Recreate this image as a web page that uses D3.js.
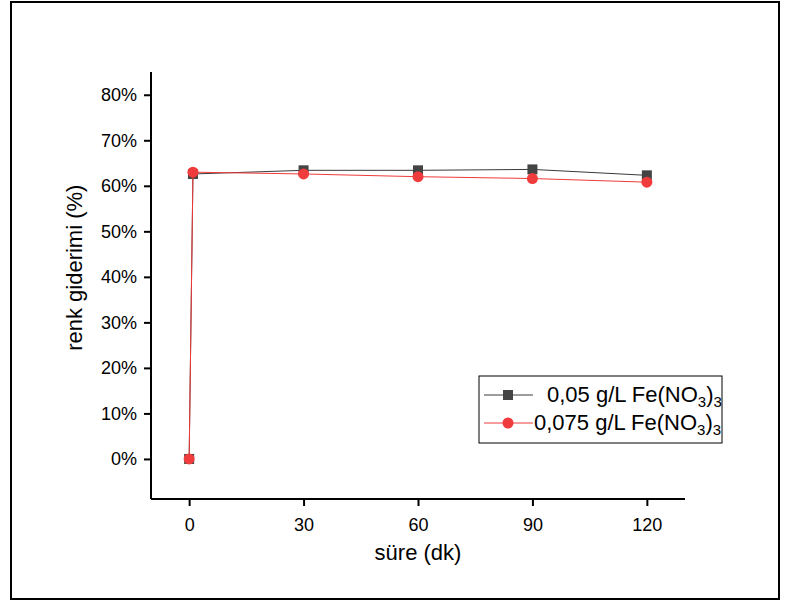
<!DOCTYPE html>
<html>
<head>
<meta charset="utf-8">
<script src="https://cdn.jsdelivr.net/npm/d3@7"></script>
<style>
  body { margin: 0; background: #fff; }
  text { font-family: "Liberation Sans", Arial, sans-serif; }
</style>
</head>
<body>
<svg id="chart-area"></svg>
<script>
// data
const times = [0, 1, 30, 60, 90, 120]
const series005 = [0, 62.6, 63.4, 63.4, 63.6, 62.3]
const series0075 = [0, 63.0, 62.6, 62.0, 61.6, 60.8]
const seriesNames = ["0,05 g/L Fe(NO", "0,075 g/L Fe(NO"]
const xTicks = [0, 30, 60, 90, 120]
const yTicks = [0, 10, 20, 30, 40, 50, 60, 70, 80]

function drawChart() {
    const svgWidth = 787
    const svgHeight = 603

    const svg = d3.select("#chart-area")
        .attr("width", svgWidth)
        .attr("height", svgHeight)

    // outer frame
    svg.append("rect")
        .attr("x", 11).attr("y", 2)
        .attr("width", 768).attr("height", 597)
        .attr("fill", "none")
        .attr("stroke", "#000")
        .attr("stroke-width", 2)

    const xScale = d3.scaleLinear()
        .domain([-10, 130])
        .range([151, 685])

    const yScale = d3.scaleLinear()
        .domain([-8.8, 85])
        .range([499, 72])

    // x axis
    const xAxis = svg.append("g")
        .attr("transform", `translate(0,${yScale(-8.8)})`)
    xAxis.call(d3.axisBottom(xScale).tickValues(d3.range(-0, 130, 15)).tickSize(4).tickFormat(""))
    xAxis.call(d3.axisBottom(xScale).tickValues(xTicks).tickSize(7).tickPadding(12))
    xAxis.selectAll(".domain").attr("d", `M${xScale(-10)},0H${xScale(130)}`)
    xAxis.selectAll("path, line").attr("stroke", "#000").attr("stroke-width", 2)
    xAxis.selectAll("text").attr("font-size", 18).attr("fill", "#000")
        .attr("font-family", "Liberation Sans, Arial, sans-serif")

    svg.append("text")
        .attr("x", xScale(60))
        .attr("y", 560)
        .attr("text-anchor", "middle")
        .attr("font-size", 22)
        .text("süre (dk)")

    // y axis
    const yAxis = svg.append("g")
        .attr("transform", `translate(${xScale(-10)},0)`)
    yAxis.call(d3.axisLeft(yScale).tickValues(d3.range(-5, 86, 10)).tickSize(4).tickFormat(""))
    yAxis.call(d3.axisLeft(yScale).tickValues(yTicks).tickSize(7).tickPadding(7).tickFormat(d => d + "%"))
    yAxis.selectAll(".domain").attr("d", `M0,${yScale(-8.8)}V${yScale(85)}`)
    yAxis.selectAll("path, line").attr("stroke", "#000").attr("stroke-width", 2)
    yAxis.selectAll("text").attr("font-size", 18).attr("fill", "#000")
        .attr("font-family", "Liberation Sans, Arial, sans-serif")

    svg.append("text")
        .attr("transform", `translate(82,${yScale(42)}) rotate(-90)`)
        .attr("text-anchor", "middle")
        .attr("font-size", 22)
        .text("renk giderimi (%)")

    const line = d3.line()
        .x((d, i) => xScale(times[i]))
        .y(d => yScale(d))

    // black series
    svg.append("path")
        .datum(series005)
        .attr("d", line)
        .attr("fill", "none")
        .attr("stroke", "#3a3a3a")
        .attr("stroke-width", 1)
    svg.selectAll(".sq")
        .data(series005)
        .enter().append("rect")
        .attr("class", "sq")
        .attr("x", (d, i) => xScale(times[i]) - 5)
        .attr("y", d => yScale(d) - 5)
        .attr("width", 10).attr("height", 10)
        .attr("fill", "#444")

    // red series
    svg.append("path")
        .datum(series0075)
        .attr("d", line)
        .attr("fill", "none")
        .attr("stroke", "#f03a3a")
        .attr("stroke-width", 1)
    svg.selectAll(".dot")
        .data(series0075)
        .enter().append("circle")
        .attr("class", "dot")
        .attr("cx", (d, i) => xScale(times[i]))
        .attr("cy", d => yScale(d))
        .attr("r", 5.5)
        .attr("fill", "#f03c3c")

    // legend
    const legend = svg.append("g")
    legend.append("rect")
        .attr("x", 479).attr("y", 376)
        .attr("width", 243).attr("height", 67)
        .attr("fill", "#fff")
        .attr("stroke", "#000")
        .attr("stroke-width", 1)

    const rows = [
        { name: seriesNames[0], color: "#444", lineColor: "#3a3a3a", shape: "square", y: 395, tx: 547 },
        { name: seriesNames[1], color: "#f03c3c", lineColor: "#f03a3a", shape: "circle", y: 423, tx: 534 }
    ]
    rows.forEach(r => {
        legend.append("line")
            .attr("x1", 484).attr("x2", 533)
            .attr("y1", r.y).attr("y2", r.y)
            .attr("stroke", r.lineColor).attr("stroke-width", 1)
        if (r.shape === "square") {
            legend.append("rect")
                .attr("x", 503).attr("y", r.y - 5)
                .attr("width", 10).attr("height", 10)
                .attr("fill", r.color)
        } else {
            legend.append("circle")
                .attr("cx", 508).attr("cy", r.y).attr("r", 5.5)
                .attr("fill", r.color)
        }
        const t = legend.append("text")
            .attr("x", r.tx).attr("y", r.y + 7)
            .attr("font-size", 22)
        t.append("tspan").text(r.name)
        t.append("tspan").attr("dy", 5).attr("font-size", 15).text("3")
        t.append("tspan").attr("dy", -5).text(")")
        t.append("tspan").attr("dy", 5).attr("font-size", 15).text("3")
    })
}

drawChart()
</script>
</body>
</html>
